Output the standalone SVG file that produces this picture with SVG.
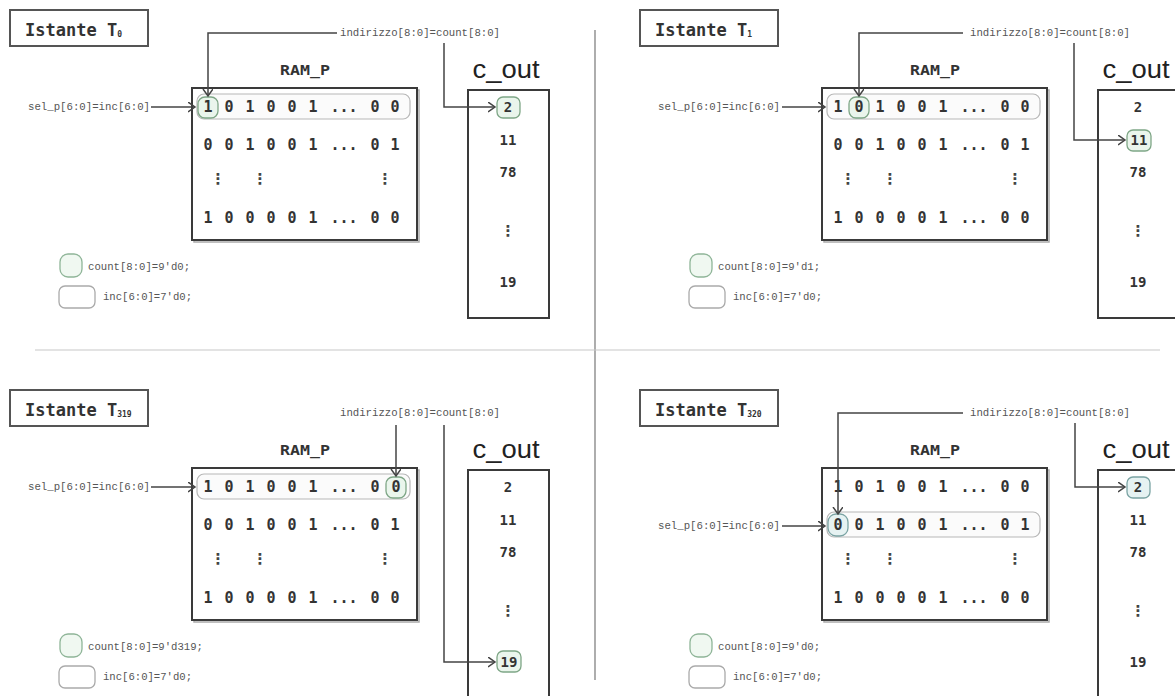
<svg xmlns="http://www.w3.org/2000/svg" width="1175" height="696" viewBox="0 0 1175 696">
<defs>
<style>
.tbox{fill:#fff;stroke:#555;stroke-width:2}
.title{font-family:"DejaVu Sans Mono",monospace;font-weight:bold;font-size:17px;fill:#333}
.sub{font-size:8px}
.ramlbl{font-family:"DejaVu Sans Mono",monospace;font-weight:bold;font-size:14px;fill:#333}
.ram{fill:#fff;stroke:#3a3a3a;stroke-width:2}
.shadow{fill:none;stroke:#aaa;stroke-width:1.5}
.row{fill:#fbfbfb;stroke:#b8b8b8;stroke-width:1.2}
.hl{fill:#eaf5ec;stroke:#7ea686;stroke-width:1.3}
.hlb{fill:#e6f2f2;stroke:#7aa3a3;stroke-width:1.3}
.bit{font-family:"DejaVu Sans Mono",monospace;font-weight:bold;font-size:15px;fill:#333;text-anchor:middle}
.vd{font-family:"DejaVu Sans",sans-serif;font-weight:bold;font-size:15px;fill:#444;text-anchor:middle}
.cout{font-family:"Liberation Sans",Arial,sans-serif;font-size:26px;fill:#222;text-anchor:middle}
.cbox{fill:#fff;stroke:#3a3a3a;stroke-width:2}
.val{font-family:"DejaVu Sans Mono",monospace;font-weight:bold;font-size:14px;fill:#333;text-anchor:middle}
.small{font-family:"Liberation Mono",monospace;font-size:10px;fill:#555}
.lgg{fill:#f0f8f1;stroke:#8fb598;stroke-width:1.3}
.lgw{fill:#fff;stroke:#aaa;stroke-width:1.3}
.conn{fill:none;stroke:#444;stroke-width:1.5}
.sep{fill:none;stroke:#c8c8c8;stroke-width:1.2}
.sepv{fill:none;stroke:#777;stroke-width:1.2}
</style>
<marker id="arr" markerUnits="userSpaceOnUse" markerWidth="10" markerHeight="12" refX="7" refY="5" orient="auto">
<path d="M0,0 L7,5 L0,10" fill="none" stroke="#444" stroke-width="1.5"/>
</marker>
</defs>
<rect width="1175" height="696" fill="#fff"/>

<g id="separators">
<line class="sepv" x1="595" y1="30" x2="595" y2="680"/>
<line class="sep" x1="35" y1="350" x2="1160" y2="350"/>
</g>

<!-- Quadrant 1: T0 -->
<g id="q1">
<g id="q1-title">
<rect class="tbox" x="10" y="10" width="138" height="36"/>
<text class="title" x="25" y="36">Istante T<tspan class="sub" dy="1">0</tspan></text>
</g>
<g id="q1-ram">
<text class="ramlbl" x="305" y="75" text-anchor="middle" textLength="50" lengthAdjust="spacingAndGlyphs">RAM_P</text>
<rect class="shadow" x="194" y="90" width="225" height="152"/>
<rect class="ram" x="192" y="88" width="225" height="152"/>
<rect class="row" x="197" y="94" width="213" height="25" rx="7"/>
<rect class="hl" x="198" y="97" width="20" height="21" rx="7"/>
<text class="bit" y="112"><tspan x="208">1</tspan><tspan x="229">0</tspan><tspan x="250">1</tspan><tspan x="271">0</tspan><tspan x="292">0</tspan><tspan x="313">1</tspan><tspan x="344">...</tspan><tspan x="375">0</tspan><tspan x="395">0</tspan></text>
<text class="bit" y="150"><tspan x="208">0</tspan><tspan x="229">0</tspan><tspan x="250">1</tspan><tspan x="271">0</tspan><tspan x="292">0</tspan><tspan x="313">1</tspan><tspan x="344">...</tspan><tspan x="375">0</tspan><tspan x="395">1</tspan></text>
<text class="vd" y="184"><tspan x="218">⋮</tspan><tspan x="260">⋮</tspan><tspan x="385">⋮</tspan></text>
<text class="bit" y="223"><tspan x="208">1</tspan><tspan x="229">0</tspan><tspan x="250">0</tspan><tspan x="271">0</tspan><tspan x="292">0</tspan><tspan x="313">1</tspan><tspan x="344">...</tspan><tspan x="375">0</tspan><tspan x="395">0</tspan></text>
</g>
<g id="q1-cout">
<text class="cout" x="506" y="78" textLength="67" lengthAdjust="spacingAndGlyphs">c_out</text>
<rect class="cbox" x="468" y="90" width="81" height="228"/>
<rect class="hl" x="497" y="97" width="23" height="21" rx="6"/>
<text class="val" x="508" y="112">2</text>
<text class="val" x="508" y="145">11</text>
<text class="val" x="508" y="177">78</text>
<text class="vd" x="508" y="236">⋮</text>
<text class="val" x="508" y="287">19</text>
</g>
<g id="q1-legend">
<rect class="lgg" x="60" y="254" width="22" height="23" rx="8"/>
<text class="small" x="88" y="270" textLength="102" lengthAdjust="spacingAndGlyphs">count[8:0]=9'd0;</text>
<rect class="lgw" x="59" y="286" width="36" height="22" rx="6"/>
<text class="small" x="103" y="300" textLength="89" lengthAdjust="spacingAndGlyphs">inc[6:0]=7'd0;</text>
</g>
<g id="q1-labels">
<text class="small" x="340" y="36" textLength="160" lengthAdjust="spacingAndGlyphs">indirizzo[8:0]=count[8:0]</text>
<text class="small" x="28" y="110" textLength="122" lengthAdjust="spacingAndGlyphs">sel_p[6:0]=inc[6:0]</text>
</g>
</g>

<!-- Quadrant 2: T1 -->
<g id="q2" transform="translate(630,0)">
<g id="q2-title">
<rect class="tbox" x="10" y="10" width="138" height="36"/>
<text class="title" x="25" y="36">Istante T<tspan class="sub" dy="1">1</tspan></text>
</g>
<g id="q2-ram">
<text class="ramlbl" x="305" y="75" text-anchor="middle" textLength="50" lengthAdjust="spacingAndGlyphs">RAM_P</text>
<rect class="shadow" x="194" y="90" width="225" height="152"/>
<rect class="ram" x="192" y="88" width="225" height="152"/>
<rect class="row" x="197" y="94" width="213" height="25" rx="7"/>
<rect class="hl" x="219" y="97" width="20" height="21" rx="7"/>
<text class="bit" y="112"><tspan x="208">1</tspan><tspan x="229">0</tspan><tspan x="250">1</tspan><tspan x="271">0</tspan><tspan x="292">0</tspan><tspan x="313">1</tspan><tspan x="344">...</tspan><tspan x="375">0</tspan><tspan x="395">0</tspan></text>
<text class="bit" y="150"><tspan x="208">0</tspan><tspan x="229">0</tspan><tspan x="250">1</tspan><tspan x="271">0</tspan><tspan x="292">0</tspan><tspan x="313">1</tspan><tspan x="344">...</tspan><tspan x="375">0</tspan><tspan x="395">1</tspan></text>
<text class="vd" y="184"><tspan x="218">⋮</tspan><tspan x="260">⋮</tspan><tspan x="385">⋮</tspan></text>
<text class="bit" y="223"><tspan x="208">1</tspan><tspan x="229">0</tspan><tspan x="250">0</tspan><tspan x="271">0</tspan><tspan x="292">0</tspan><tspan x="313">1</tspan><tspan x="344">...</tspan><tspan x="375">0</tspan><tspan x="395">0</tspan></text>
</g>
<g id="q2-cout">
<text class="cout" x="506" y="78" textLength="67" lengthAdjust="spacingAndGlyphs">c_out</text>
<rect class="cbox" x="468" y="90" width="81" height="228"/>
<rect class="hl" x="497" y="130" width="24" height="21" rx="6"/>
<text class="val" x="508" y="112">2</text>
<text class="val" x="509" y="145">11</text>
<text class="val" x="508" y="177">78</text>
<text class="vd" x="508" y="236">⋮</text>
<text class="val" x="508" y="287">19</text>
</g>
<g id="q2-legend">
<rect class="lgg" x="60" y="254" width="22" height="23" rx="8"/>
<text class="small" x="88" y="270" textLength="102" lengthAdjust="spacingAndGlyphs">count[8:0]=9'd1;</text>
<rect class="lgw" x="59" y="286" width="36" height="22" rx="6"/>
<text class="small" x="103" y="300" textLength="89" lengthAdjust="spacingAndGlyphs">inc[6:0]=7'd0;</text>
</g>
<g id="q2-labels">
<text class="small" x="340" y="36" textLength="160" lengthAdjust="spacingAndGlyphs">indirizzo[8:0]=count[8:0]</text>
<text class="small" x="28" y="110" textLength="122" lengthAdjust="spacingAndGlyphs">sel_p[6:0]=inc[6:0]</text>
</g>
</g>

<!-- Quadrant 3: T319 -->
<g id="q3" transform="translate(0,380)">
<g id="q3-title">
<rect class="tbox" x="10" y="10" width="138" height="36"/>
<text class="title" x="25" y="36">Istante T<tspan class="sub" dy="1">319</tspan></text>
</g>
<g id="q3-ram">
<text class="ramlbl" x="305" y="75" text-anchor="middle" textLength="50" lengthAdjust="spacingAndGlyphs">RAM_P</text>
<rect class="shadow" x="194" y="90" width="225" height="152"/>
<rect class="ram" x="192" y="88" width="225" height="152"/>
<rect class="row" x="197" y="94" width="213" height="25" rx="7"/>
<rect class="hl" x="386" y="97" width="20" height="21" rx="7"/>
<text class="bit" y="112"><tspan x="208">1</tspan><tspan x="229">0</tspan><tspan x="250">1</tspan><tspan x="271">0</tspan><tspan x="292">0</tspan><tspan x="313">1</tspan><tspan x="344">...</tspan><tspan x="375">0</tspan><tspan x="396">0</tspan></text>
<text class="bit" y="150"><tspan x="208">0</tspan><tspan x="229">0</tspan><tspan x="250">1</tspan><tspan x="271">0</tspan><tspan x="292">0</tspan><tspan x="313">1</tspan><tspan x="344">...</tspan><tspan x="375">0</tspan><tspan x="395">1</tspan></text>
<text class="vd" y="184"><tspan x="218">⋮</tspan><tspan x="260">⋮</tspan><tspan x="385">⋮</tspan></text>
<text class="bit" y="223"><tspan x="208">1</tspan><tspan x="229">0</tspan><tspan x="250">0</tspan><tspan x="271">0</tspan><tspan x="292">0</tspan><tspan x="313">1</tspan><tspan x="344">...</tspan><tspan x="375">0</tspan><tspan x="395">0</tspan></text>
</g>
<g id="q3-cout">
<text class="cout" x="506" y="78" textLength="67" lengthAdjust="spacingAndGlyphs">c_out</text>
<rect class="cbox" x="468" y="90" width="81" height="240"/>
<rect class="hl" x="497" y="271" width="24" height="21" rx="6"/>
<text class="val" x="508" y="112">2</text>
<text class="val" x="508" y="145">11</text>
<text class="val" x="508" y="177">78</text>
<text class="vd" x="508" y="236">⋮</text>
<text class="val" x="509" y="287">19</text>
</g>
<g id="q3-legend">
<rect class="lgg" x="60" y="254" width="22" height="23" rx="8"/>
<text class="small" x="88" y="270" textLength="115" lengthAdjust="spacingAndGlyphs">count[8:0]=9'd319;</text>
<rect class="lgw" x="59" y="286" width="36" height="22" rx="6"/>
<text class="small" x="103" y="300" textLength="89" lengthAdjust="spacingAndGlyphs">inc[6:0]=7'd0;</text>
</g>
<g id="q3-labels">
<text class="small" x="340" y="36" textLength="160" lengthAdjust="spacingAndGlyphs">indirizzo[8:0]=count[8:0]</text>
<text class="small" x="28" y="110" textLength="122" lengthAdjust="spacingAndGlyphs">sel_p[6:0]=inc[6:0]</text>
</g>
</g>

<!-- Quadrant 4: T320 -->
<g id="q4" transform="translate(630,380)">
<g id="q4-title">
<rect class="tbox" x="10" y="10" width="138" height="36"/>
<text class="title" x="25" y="36">Istante T<tspan class="sub" dy="1">320</tspan></text>
</g>
<g id="q4-ram">
<text class="ramlbl" x="305" y="75" text-anchor="middle" textLength="50" lengthAdjust="spacingAndGlyphs">RAM_P</text>
<rect class="shadow" x="194" y="90" width="225" height="152"/>
<rect class="ram" x="192" y="88" width="225" height="152"/>
<rect class="row" x="197" y="132" width="213" height="25" rx="7"/>
<rect class="hlb" x="198" y="134" width="20" height="22" rx="8"/>
<text class="bit" y="112"><tspan x="208">1</tspan><tspan x="229">0</tspan><tspan x="250">1</tspan><tspan x="271">0</tspan><tspan x="292">0</tspan><tspan x="313">1</tspan><tspan x="344">...</tspan><tspan x="375">0</tspan><tspan x="395">0</tspan></text>
<text class="bit" y="150"><tspan x="208">0</tspan><tspan x="229">0</tspan><tspan x="250">1</tspan><tspan x="271">0</tspan><tspan x="292">0</tspan><tspan x="313">1</tspan><tspan x="344">...</tspan><tspan x="375">0</tspan><tspan x="395">1</tspan></text>
<text class="vd" y="184"><tspan x="218">⋮</tspan><tspan x="260">⋮</tspan><tspan x="385">⋮</tspan></text>
<text class="bit" y="223"><tspan x="208">1</tspan><tspan x="229">0</tspan><tspan x="250">0</tspan><tspan x="271">0</tspan><tspan x="292">0</tspan><tspan x="313">1</tspan><tspan x="344">...</tspan><tspan x="375">0</tspan><tspan x="395">0</tspan></text>
</g>
<g id="q4-cout">
<text class="cout" x="506" y="78" textLength="67" lengthAdjust="spacingAndGlyphs">c_out</text>
<rect class="cbox" x="468" y="90" width="81" height="240"/>
<rect class="hlb" x="497" y="97" width="23" height="21" rx="6"/>
<text class="val" x="508" y="112">2</text>
<text class="val" x="508" y="145">11</text>
<text class="val" x="508" y="177">78</text>
<text class="vd" x="508" y="236">⋮</text>
<text class="val" x="508" y="287">19</text>
</g>
<g id="q4-legend">
<rect class="lgg" x="60" y="254" width="22" height="23" rx="8"/>
<text class="small" x="88" y="270" textLength="102" lengthAdjust="spacingAndGlyphs">count[8:0]=9'd0;</text>
<rect class="lgw" x="59" y="286" width="36" height="22" rx="6"/>
<text class="small" x="103" y="300" textLength="89" lengthAdjust="spacingAndGlyphs">inc[6:0]=7'd0;</text>
</g>
<g id="q4-labels">
<text class="small" x="340" y="36" textLength="160" lengthAdjust="spacingAndGlyphs">indirizzo[8:0]=count[8:0]</text>
<text class="small" x="28" y="149" textLength="122" lengthAdjust="spacingAndGlyphs">sel_p[6:0]=inc[6:0]</text>
</g>
</g>

<g id="connectors">
<g transform="translate(0,0)">
<path class="conn" d="M337,33 H208 V96" marker-end="url(#arr)"/>
<path class="conn" d="M151,107 H195" marker-end="url(#arr)"/>
<path class="conn" d="M444,43 V107 H495" marker-end="url(#arr)"/>
</g>
<g transform="translate(630,0)">
<path class="conn" d="M333,33 H229 V96" marker-end="url(#arr)"/>
<path class="conn" d="M152,107 H195" marker-end="url(#arr)"/>
<path class="conn" d="M444,43 V140 H495" marker-end="url(#arr)"/>
</g>
<g transform="translate(0,380)">
<path class="conn" d="M396,45 V96" marker-end="url(#arr)"/>
<path class="conn" d="M151,107 H195" marker-end="url(#arr)"/>
<path class="conn" d="M444,45 V282 H495" marker-end="url(#arr)"/>
</g>
<g transform="translate(630,380)">
<path class="conn" d="M333,33 H208 V134" marker-end="url(#arr)"/>
<path class="conn" d="M152,146 H195" marker-end="url(#arr)"/>
<path class="conn" d="M445,43 V107 H495" marker-end="url(#arr)"/>
</g>
</g>
</svg>
